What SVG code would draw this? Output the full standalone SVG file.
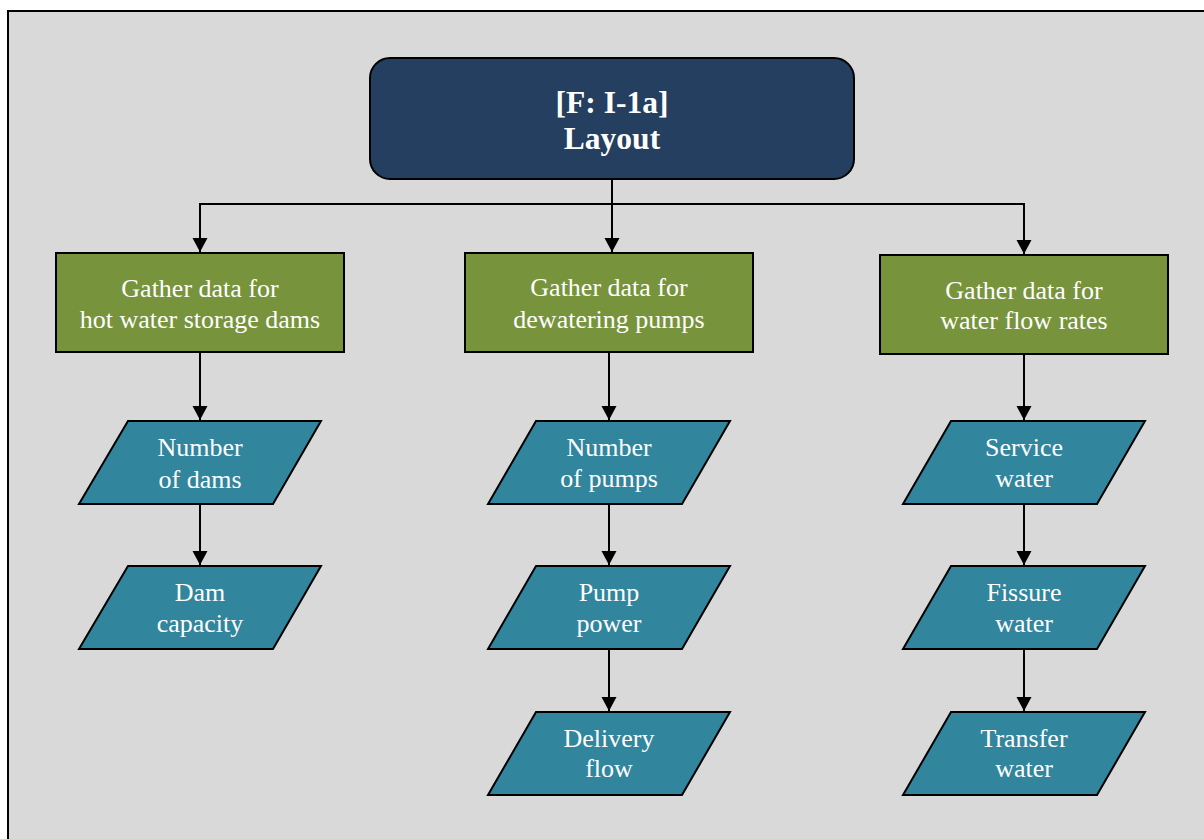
<svg xmlns="http://www.w3.org/2000/svg" width="1204" height="839" viewBox="0 0 1204 839">
  <style>
    .frame { fill: #D9D9D9; stroke: #000; stroke-width: 2; }
    .title { fill: #243F60; stroke: #000; stroke-width: 2; }
    .task { fill: #77933C; stroke: #000; stroke-width: 2; }
    .data { fill: #31859C; stroke: #000; stroke-width: 2; stroke-linejoin: miter; }
    .link { fill: none; stroke: #000; stroke-width: 2; }
    text { font-family: "Liberation Serif", "Times New Roman", serif; fill: #fff; text-anchor: middle; }
    .t-title { font-size: 31.5px; font-weight: bold; }
    .t-node { font-size: 26px; }
  </style>
  <defs>
    <marker id="arrow" markerUnits="userSpaceOnUse" markerWidth="16" markerHeight="16" viewBox="0 0 16 16" refX="15" refY="8" orient="auto">
      <path d="M1,0.5 L15,8 L1,15.5 Z" fill="#000"/>
    </marker>
  </defs>

  <!-- background panel -->
  <rect class="frame" x="8" y="11" width="1220" height="850"/>

  <!-- connectors -->
  <g id="connectors">
    <line class="link" x1="612" y1="179" x2="612" y2="252" marker-end="url(#arrow)"/>
    <polyline class="link" points="200,204 1024,204"/>
    <line class="link" x1="200" y1="203" x2="200" y2="252" marker-end="url(#arrow)"/>
    <line class="link" x1="1024" y1="203" x2="1024" y2="254" marker-end="url(#arrow)"/>

    <line class="link" x1="200" y1="352" x2="200" y2="420" marker-end="url(#arrow)"/>
    <line class="link" x1="200" y1="504" x2="200" y2="565" marker-end="url(#arrow)"/>

    <line class="link" x1="609" y1="352" x2="609" y2="420" marker-end="url(#arrow)"/>
    <line class="link" x1="609" y1="504" x2="609" y2="565" marker-end="url(#arrow)"/>
    <line class="link" x1="609" y1="649" x2="609" y2="711" marker-end="url(#arrow)"/>

    <line class="link" x1="1024" y1="354" x2="1024" y2="420" marker-end="url(#arrow)"/>
    <line class="link" x1="1024" y1="504" x2="1024" y2="565" marker-end="url(#arrow)"/>
    <line class="link" x1="1024" y1="649" x2="1024" y2="711" marker-end="url(#arrow)"/>
  </g>

  <!-- root -->
  <g id="layout">
    <rect class="title" x="370" y="58" width="484" height="121" rx="20" ry="20"/>
    <text class="t-title" x="612" y="113">[F: I-1a]</text>
    <text class="t-title" x="612" y="149">Layout</text>
  </g>

  <!-- gather nodes -->
  <g id="gather-dams">
    <rect class="task" x="56" y="253" width="288" height="99"/>
    <text class="t-node" x="200" y="297">Gather data for</text>
    <text class="t-node" x="200" y="328">hot water storage dams</text>
  </g>
  <g id="gather-pumps">
    <rect class="task" x="465" y="253" width="288" height="99"/>
    <text class="t-node" x="609" y="296">Gather data for</text>
    <text class="t-node" x="609" y="328">dewatering pumps</text>
  </g>
  <g id="gather-flow">
    <rect class="task" x="880" y="255" width="288" height="99"/>
    <text class="t-node" x="1024" y="299">Gather data for</text>
    <text class="t-node" x="1024" y="329">water flow rates</text>
  </g>

  <!-- left column data -->
  <g id="number-of-dams">
    <polygon class="data" points="128,421 321,421 273,504 79,504"/>
    <text class="t-node" x="200" y="456">Number</text>
    <text class="t-node" x="200" y="488">of dams</text>
  </g>
  <g id="dam-capacity">
    <polygon class="data" points="128,566 321,566 273,649 79,649"/>
    <text class="t-node" x="200" y="601">Dam</text>
    <text class="t-node" x="200" y="632">capacity</text>
  </g>

  <!-- middle column data -->
  <g id="number-of-pumps">
    <polygon class="data" points="536,421 730,421 682,504 488,504"/>
    <text class="t-node" x="609" y="456">Number</text>
    <text class="t-node" x="609" y="487">of pumps</text>
  </g>
  <g id="pump-power">
    <polygon class="data" points="536,566 730,566 682,649 488,649"/>
    <text class="t-node" x="609" y="601">Pump</text>
    <text class="t-node" x="609" y="632">power</text>
  </g>
  <g id="delivery-flow">
    <polygon class="data" points="536,712 730,712 682,795 488,795"/>
    <text class="t-node" x="609" y="747">Delivery</text>
    <text class="t-node" x="609" y="777">flow</text>
  </g>

  <!-- right column data -->
  <g id="service-water">
    <polygon class="data" points="951,421 1145,421 1097,504 903,504"/>
    <text class="t-node" x="1024" y="456">Service</text>
    <text class="t-node" x="1024" y="487">water</text>
  </g>
  <g id="fissure-water">
    <polygon class="data" points="951,566 1145,566 1097,649 903,649"/>
    <text class="t-node" x="1024" y="601">Fissure</text>
    <text class="t-node" x="1024" y="632">water</text>
  </g>
  <g id="transfer-water">
    <polygon class="data" points="951,712 1145,712 1097,795 903,795"/>
    <text class="t-node" x="1024" y="747">Transfer</text>
    <text class="t-node" x="1024" y="777">water</text>
  </g>
</svg>
